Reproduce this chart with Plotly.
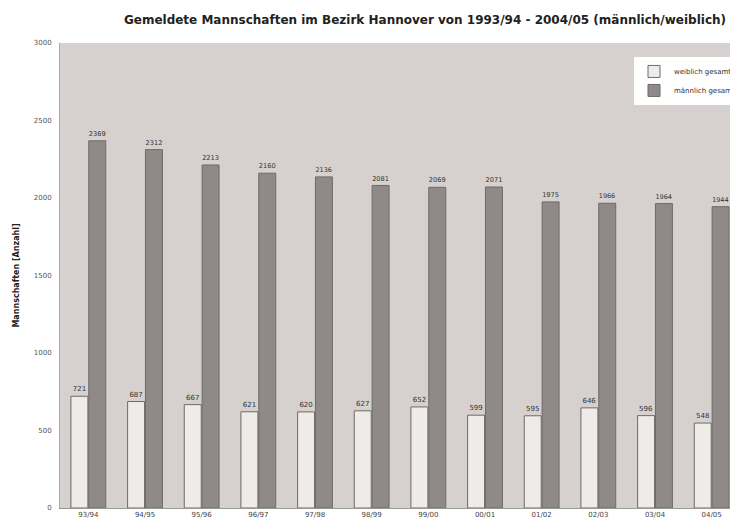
import plotly.graph_objects as go

categories = ["93/94", "94/95", "95/96", "96/97", "97/98", "98/99", "99/00",
              "00/01", "01/02", "02/03", "03/04", "04/05"]
weiblich = [721, 687, 667, 621, 620, 627, 652, 599, 595, 646, 596, 548]
maennlich = [2369, 2312, 2213, 2160, 2136, 2081, 2069, 2071, 1975, 1966, 1964, 1944]

fig = go.Figure()
fig.add_trace(go.Bar(
    x=categories, y=weiblich, name="weiblich gesamt",
    marker=dict(color="#eeebe8", line=dict(color="#6e6a68", width=1)),
    text=[str(v) for v in weiblich], textposition="outside",
    textfont=dict(size=7, color="#333333", family="DejaVu Sans"),
    cliponaxis=False,
))
fig.add_trace(go.Bar(
    x=categories, y=maennlich, name="männlich gesamt",
    marker=dict(color="#8f8a87", line=dict(color="#6e6a68", width=1)),
    text=[str(v) for v in maennlich], textposition="outside",
    textfont=dict(size=7, color="#333333", family="DejaVu Sans"),
    cliponaxis=False,
))

fig.update_layout(
    width=738, height=530,
    barmode="group", bargap=0.37, bargroupgap=0.05,
    paper_bgcolor="white", plot_bgcolor="#d6d0ce",
    margin=dict(l=52, r=6, t=35, b=30),
    title=dict(text="<b>Gemeldete Mannschaften im Bezirk Hannover von 1993/94 - 2004/05 (männlich/weiblich)</b>",
               x=0.565, xanchor="center", y=0.985, yanchor="top",
               font=dict(size=12, color="#222222", family="DejaVu Sans")),
    font=dict(family="DejaVu Sans", color="#333333"),
    legend=dict(x=1.0, y=0.97, xanchor="right", yanchor="top",
                bgcolor="white", bordercolor="#cccccc", borderwidth=0,
                font=dict(size=7, color="#333333"), itemwidth=30,
                tracegroupgap=0),
    xaxis=dict(tickfont=dict(size=7, color="#444444"), showline=True,
               linecolor="#999999", ticks=""),
    yaxis=dict(range=[0, 3000], dtick=500, tickfont=dict(size=7, color="#555555"),
               showgrid=False, zeroline=False, showline=True, linecolor="#aaaaaa",
               ticks="outside", ticklen=6, tickcolor="white",
               title=dict(text="<b>Mannschaften [Anzahl]</b>", font=dict(size=8, color="#222222"),
                          standoff=12)),
)

fig.write_html("out.html")
